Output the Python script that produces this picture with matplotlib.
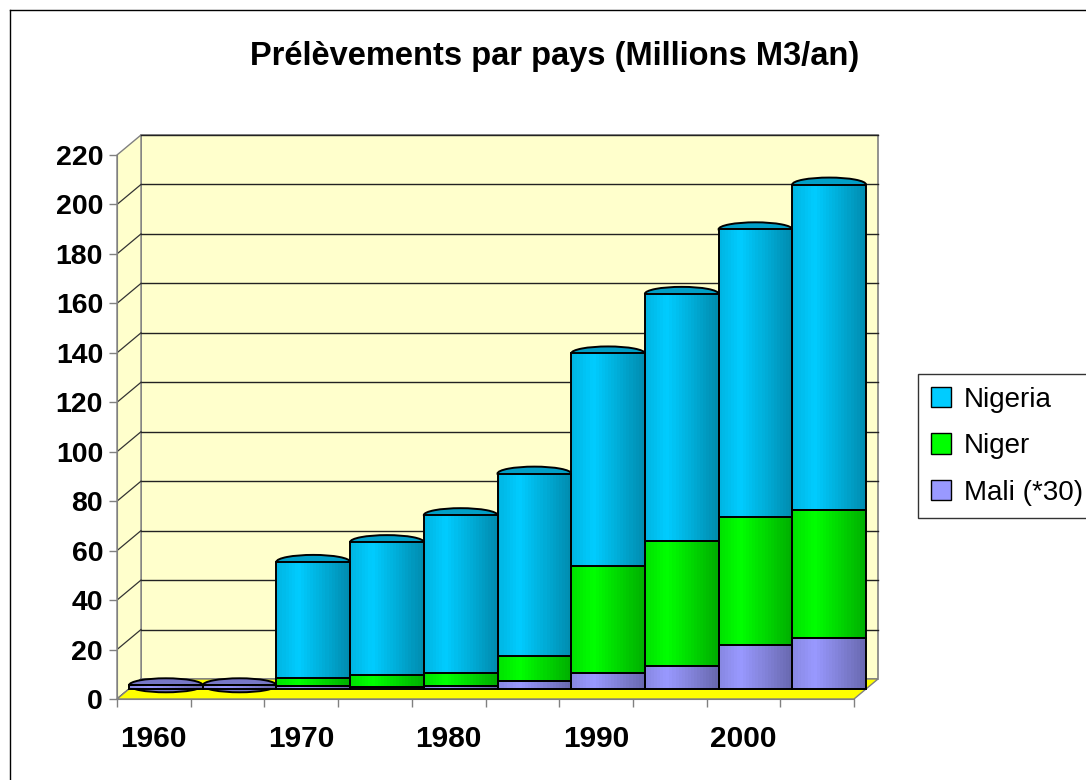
import numpy as np
import matplotlib
matplotlib.use("Agg")
import matplotlib.pyplot as plt
from matplotlib.patches import Ellipse, Patch, Polygon
from matplotlib.lines import Line2D
from matplotlib.transforms import Affine2D, IdentityTransform

plt.rcParams["font.family"] = ["Liberation Sans", "DejaVu Sans"]

# Data
years = ["1960", "1965", "1970", "1975", "1980", "1985", "1990", "1995", "2000", "2005"]
mali = [1.5, 1.5, 1.2, 1.0, 1.2, 3.2, 6.4, 9.2, 17.7, 20.5]
niger = [0.0, 0.0, 3.2, 4.7, 5.2, 10.1, 43.4, 50.6, 51.7, 51.8]
nigeria = [0.0, 0.0, 47.0, 53.7, 63.9, 73.8, 85.9, 100.0, 116.5, 131.7]
series_names = ["Nigeria", "Niger", "Mali (*30)"]
y_ticks = list(range(0, 221, 20))

# Colors
c_nigeria = "#00CCFF"
c_niger = "#00FF00"
c_mali = "#9999FF"
wall_color = "#FFFFCC"
floor_color = "#FFFF00"

W, H = 1086, 780
fig = plt.figure(figsize=(W / 100, H / 100), dpi=100)
x0_px, x1_px, y0_px, ytop_px = 117, 854, 699, 155
ax = fig.add_axes([x0_px / W, (H - y0_px) / H, (x1_px - x0_px) / W, (y0_px - ytop_px) / H])
n = len(years)
ax.set_xlim(0, n)
ax.set_ylim(0, 220)

# depth offsets in pixels
bdx, bdy = 24, 20
mdx, mdy = 12, 10
back = ax.transData + Affine2D().translate(bdx, bdy)
mid = ax.transData + Affine2D().translate(mdx, mdy)


def to_px(x, y, dx=0, dy=0):
    p = ax.transData.transform((x, y))
    return (p[0] + dx, p[1] + dy)


# back wall
ax.fill([0, n, n, 0], [0, 0, 220, 220], color=wall_color, transform=back,
        clip_on=False, zorder=0, edgecolor="#808080", linewidth=1.2)
# side wall
side = Polygon([to_px(0, 0), to_px(0, 220), to_px(0, 220, bdx, bdy), to_px(0, 0, bdx, bdy)],
               closed=True, facecolor=wall_color, edgecolor="#808080", linewidth=1.0,
               transform=IdentityTransform(), clip_on=False, zorder=0)
ax.add_artist(side)
# floor
floor = Polygon([to_px(0, 0), to_px(n, 0), to_px(n, 0, bdx, bdy), to_px(0, 0, bdx, bdy)],
                closed=True, facecolor=floor_color, edgecolor="#808080", linewidth=1.0,
                transform=IdentityTransform(), clip_on=False, zorder=0.5)
ax.add_artist(floor)

# gridlines on back wall and side wall
for v in y_ticks[1:]:
    ax.plot([0, n], [v, v], color="#222222", linewidth=1.0, transform=back,
            clip_on=False, zorder=0.3)
for v in y_ticks:
    a = to_px(0, v)
    b = to_px(0, v, bdx, bdy)
    ax.add_artist(Line2D([a[0], b[0]], [a[1], b[1]], color="#333333", linewidth=0.9,
                         transform=IdentityTransform(), zorder=0.3))


def shade(base, f):
    rgb = np.array(matplotlib.colors.to_rgb(base))
    if f > 1:
        return tuple(rgb + (1 - rgb) * (f - 1))
    return tuple(rgb * f)


# cylinder shading profile
n_strips = 24
ts = (np.arange(n_strips) + 0.5) / n_strips
profile = np.where(ts < 0.3, 0.88 + 0.12 * ts / 0.3, 1.0 - 0.32 * (ts - 0.3) / 0.7)

x = np.arange(n)
stack = [(mali, c_mali), (niger, c_niger), (nigeria, c_nigeria)]
bottom = np.zeros(n)
for vals, col in stack:
    vals = np.array(vals)
    for k in range(n_strips):
        ax.bar(x + ts[k], vals, width=1.0 / n_strips * 1.05, bottom=bottom,
               color=shade(col, profile[k]), linewidth=0, transform=mid,
               clip_on=False, zorder=3)
    ax.bar(x + 0.5, vals, width=1.0, bottom=bottom, fill=False, edgecolor="black",
           linewidth=1.4, transform=mid, clip_on=False, zorder=4)
    bottom = bottom + vals

# top caps
tops = bottom
cap_h = 14 / 2.473
for i in range(n):
    if nigeria[i] > 0:
        cc = shade(c_nigeria, 0.78)
    elif niger[i] > 0:
        cc = shade(c_niger, 0.78)
    else:
        cc = shade(c_mali, 0.78)
    ax.add_patch(Ellipse((i + 0.5, tops[i]), 1.0, cap_h, facecolor=cc, edgecolor="black",
                         linewidth=1.4, transform=mid, clip_on=False, zorder=2.5))

# axes styling
for s in ["top", "right"]:
    ax.spines[s].set_visible(False)
ax.spines["left"].set_color("#808080")
ax.spines["bottom"].set_color("#808080")
ax.spines["left"].set_zorder(5)
ax.spines["bottom"].set_zorder(5)
ax.patch.set_visible(False)
ax.set_yticks(y_ticks)
ax.set_yticklabels([str(v) for v in y_ticks], fontsize=20.5, fontweight="bold")
ax.tick_params(axis="y", length=6, width=1, color="#808080", pad=4)
ax.set_xticks(np.arange(n + 1))
ax.set_xticklabels([])
ax.tick_params(axis="x", which="major", length=6, width=1, color="#808080")
ax.set_xticks(x[::2] + 0.5, minor=True)
ax.set_xticklabels(years[::2], minor=True, fontsize=21.5, fontweight="bold")
ax.tick_params(axis="x", which="minor", length=0, pad=19)

# title
fig.text(555 / W, 1 - 57 / H, "Prélèvements par pays (Millions M3/an)", ha="center",
         va="center", fontsize=23.5, fontweight="bold")

# legend
handles = [Patch(facecolor=c_nigeria, edgecolor="black"),
           Patch(facecolor=c_niger, edgecolor="black"),
           Patch(facecolor=c_mali, edgecolor="black")]
leg = fig.legend(handles, series_names, loc="upper left", bbox_to_anchor=(918 / W, 1 - 374 / H),
                 fontsize=20, frameon=True, fancybox=False, edgecolor="black",
                 handlelength=0.75, handleheight=0.75, handletextpad=0.45, labelspacing=0.74,
                 borderpad=0.45, borderaxespad=0)
leg.get_frame().set_linewidth(1.0)

# outer frame (left and top lines)
fig.add_artist(Line2D([10 / W, 10 / W], [0, 1 - 10 / H], color="black", linewidth=1.0,
                      transform=fig.transFigure))
fig.add_artist(Line2D([10 / W, 1], [1 - 10 / H, 1 - 10 / H], color="black", linewidth=1.0,
                      transform=fig.transFigure))

fig.savefig("out.png", dpi=100)
